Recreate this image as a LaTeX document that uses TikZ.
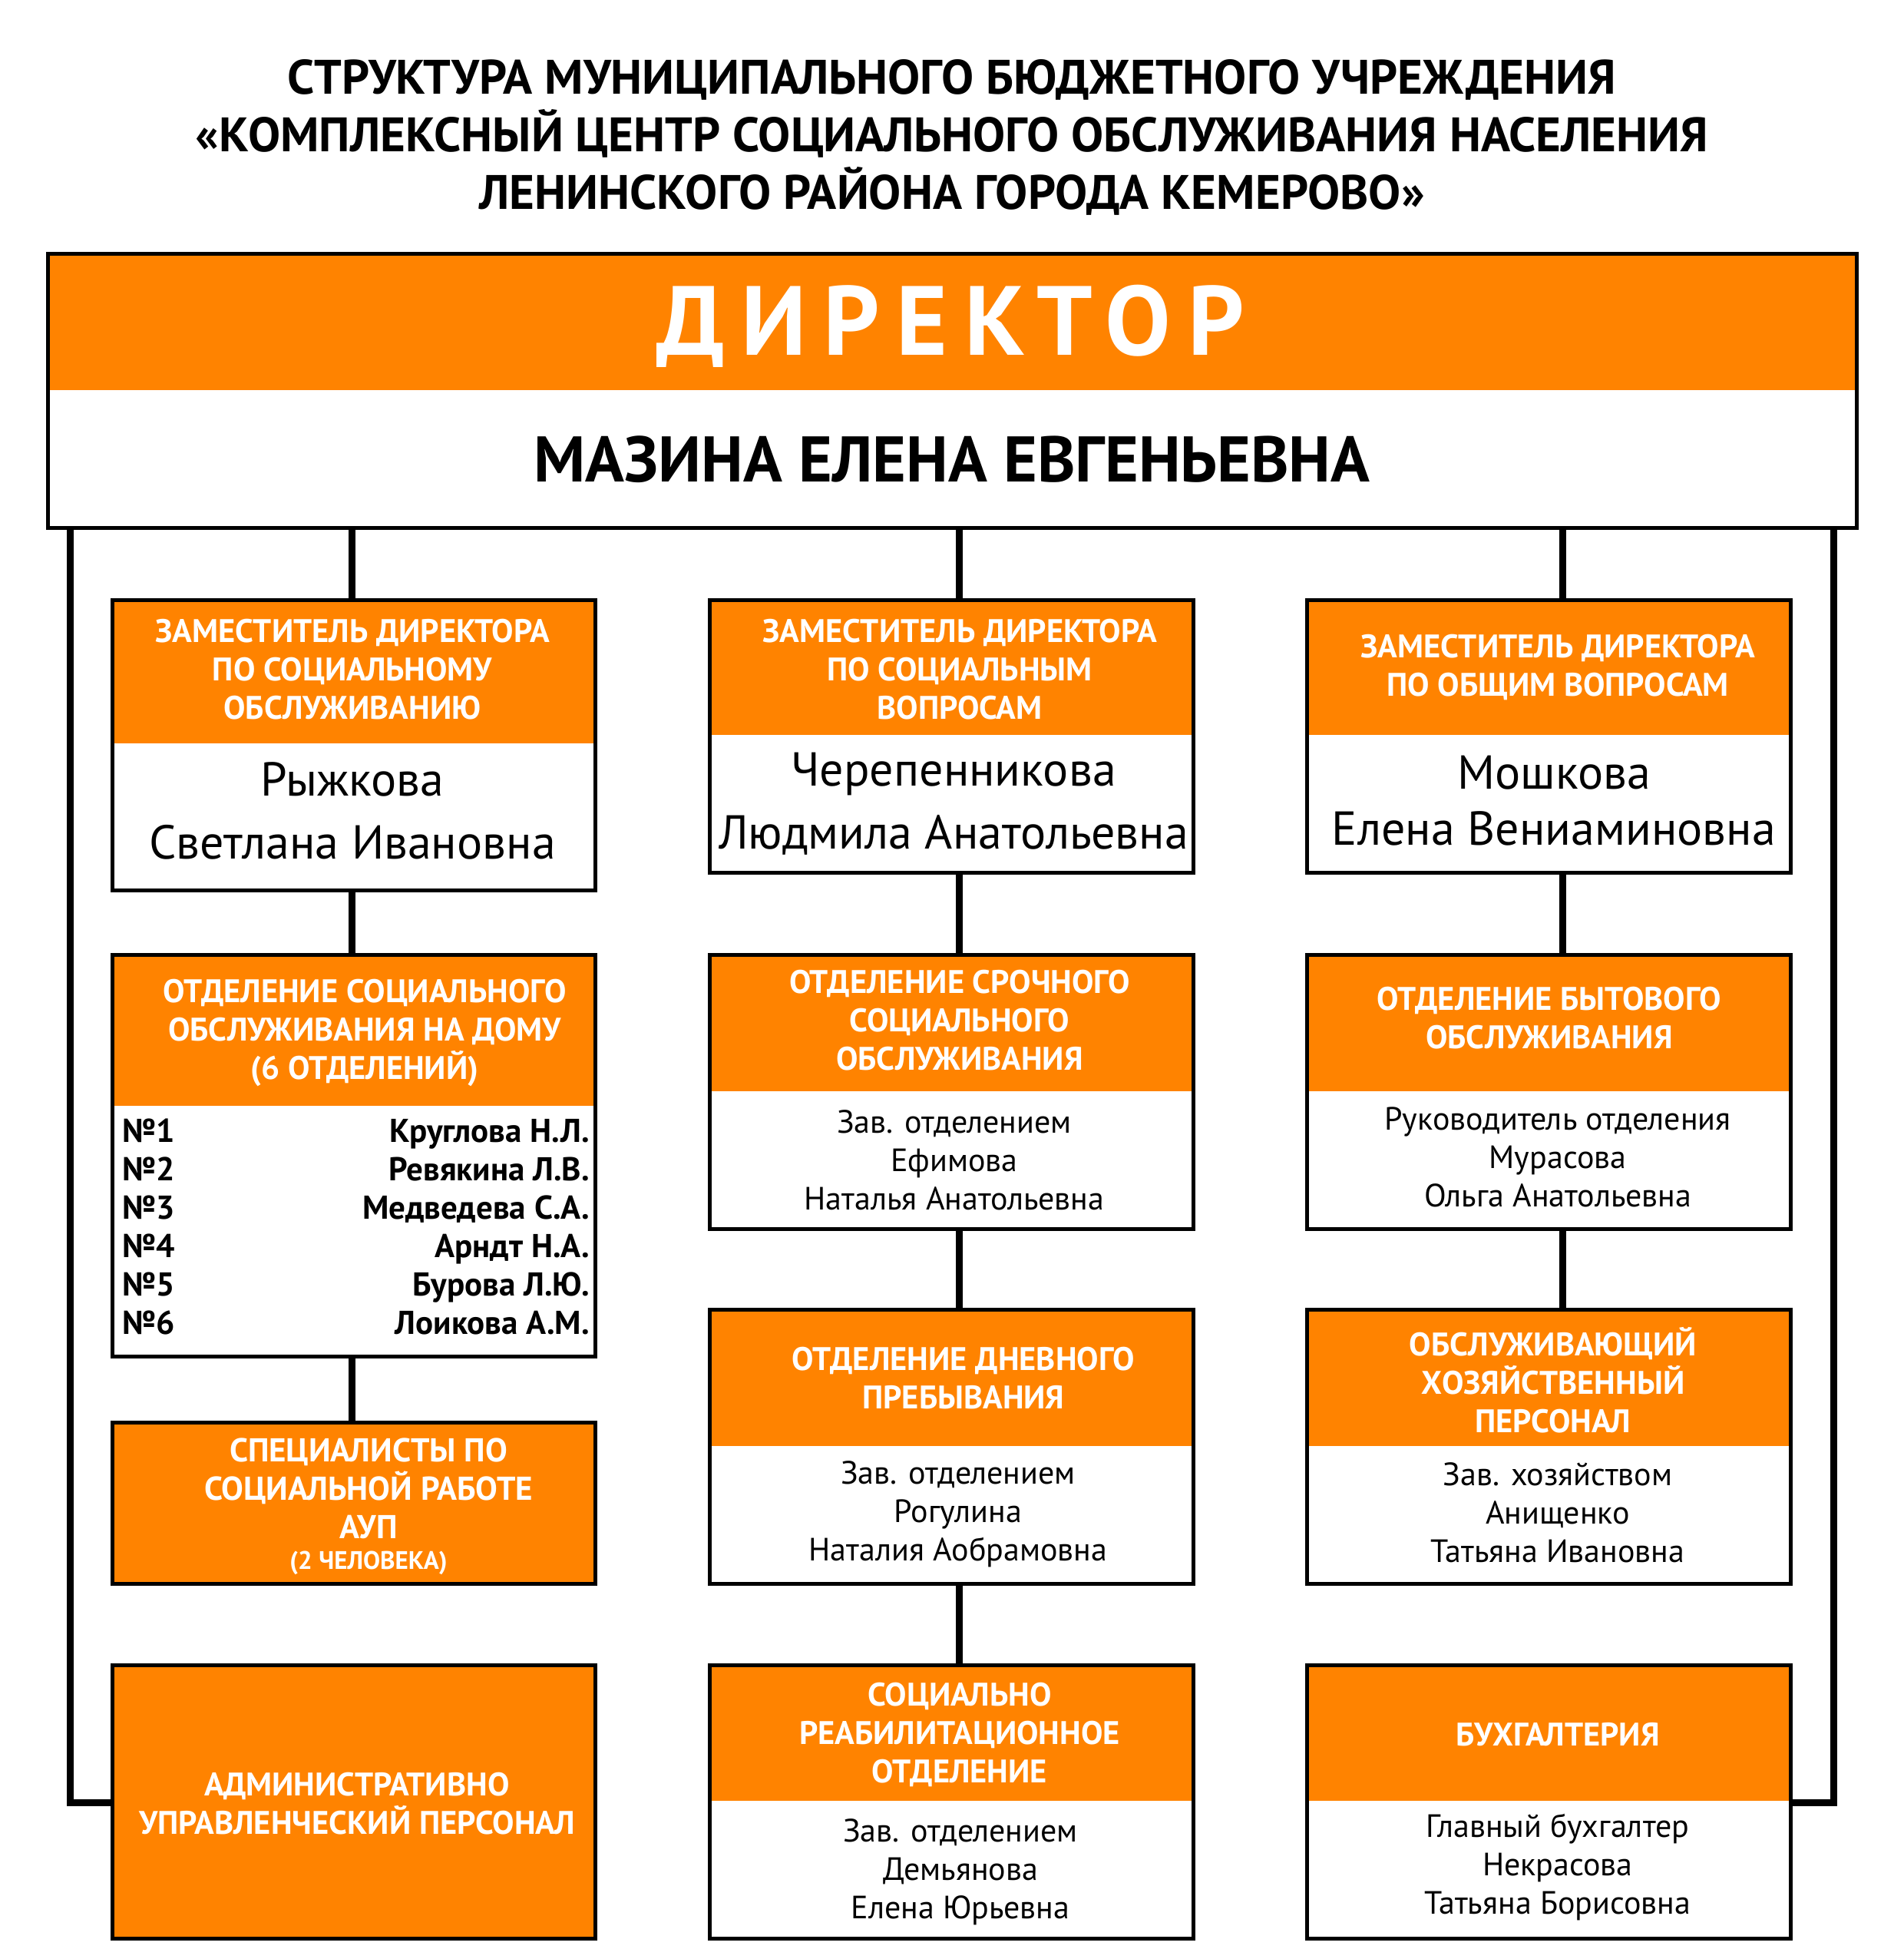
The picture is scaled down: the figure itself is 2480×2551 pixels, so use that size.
\documentclass[tikz,border=0pt]{standalone}
\usepackage{fontspec}
\setmainfont{PT Sans}
\usetikzlibrary{fit}
\definecolor{orng}{RGB}{255,131,0}
\tikzset{
  frame/.style={draw=black, line width=5pt, inner sep=0pt, outer sep=0pt},
  conn/.style={draw=black, line width=9pt, line join=miter},
  hdr/.style={text=white, font=\bfseries\fontsize{42.5}{50}\selectfont, align=center, inner sep=0pt},
  body/.style={text=black, font=\fontsize{42}{50}\selectfont, align=center, inner sep=0pt},
  nm/.style={text=black, font=\fontsize{62}{82}\selectfont, align=center, inner sep=0pt},
  lst/.style={text=black, font=\bfseries\fontsize{43}{50}\selectfont, inner sep=0pt},
  ttl/.style={text=black, font=\bfseries\fontsize{63}{75}\selectfont, align=center, inner sep=0pt},
}
\newcommand{\obox}[6]{%
  \fill[orng] (#2,#3) rectangle (#4,#6);
  \node[frame, fit={(#2,#3) (#4,#5)}] (#1) {};
}
\begin{document}
\begin{tikzpicture}[x=1pt,y=-1pt]
\useasboundingbox[fill=white] (0,0) rectangle (2480,2551);

% title
\node[ttl] (title) at (1240,179) {СТРУКТУРА МУНИЦИПАЛЬНОГО БЮДЖЕТНОГО УЧРЕЖДЕНИЯ\\«КОМПЛЕКСНЫЙ ЦЕНТР СОЦИАЛЬНОГО ОБСЛУЖИВАНИЯ НАСЕЛЕНИЯ\\ЛЕНИНСКОГО РАЙОНА ГОРОДА КЕМЕРОВО»};

% director
\obox{dir}{62}{330}{2418}{687}{508}
\node[text=white, inner sep=0pt, font=\bfseries\fontsize{128}{130}\selectfont\addfontfeature{LetterSpace=17}] (dirt) at (1238,425) {ДИРЕКТОР};
\node[inner sep=0pt, font=\bfseries\fontsize{84}{90}\selectfont] (dirn) at (1240,598) {МАЗИНА ЕЛЕНА ЕВГЕНЬЕВНА};

% boxes
\obox{dep1}{146}{781}{775}{1159}{968}
\obox{dep2}{924}{781}{1554}{1136}{957}
\obox{dep3}{1702}{781}{2332}{1136}{957}
\obox{otd1}{146}{1243}{775}{1766}{1440}
\obox{otd2}{924}{1243}{1554}{1600}{1421}
\obox{otd3}{1702}{1243}{2332}{1600}{1421}
\obox{spec}{146}{1852}{775}{2062}{2062}
\obox{otd4}{924}{1705}{1554}{2062}{1883}
\obox{hoz}{1702}{1705}{2332}{2062}{1883}
\obox{aup}{146}{2168}{775}{2524}{2524}
\obox{reab}{924}{2168}{1554}{2524}{2345}
\obox{buh}{1702}{2168}{2332}{2524}{2345}

% texts: deputies
\node[hdr] (t1) at (459,872) {ЗАМЕСТИТЕЛЬ ДИРЕКТОРА\\ПО СОЦИАЛЬНОМУ\\ОБСЛУЖИВАНИЮ};
\node[nm] (n1) at (459,1056) {Рыжкова\\Светлана Ивановна};
\node[hdr] (t2) at (1250,872) {ЗАМЕСТИТЕЛЬ ДИРЕКТОРА\\ПО СОЦИАЛЬНЫМ\\ВОПРОСАМ};
\node[nm] (n2) at (1242,1047) {Черепенникова\\Людмила Анатольевна};
\node[hdr] (t3) at (2029,869) {ЗАМЕСТИТЕЛЬ ДИРЕКТОРА\\ПО ОБЩИМ ВОПРОСАМ};
\node[nm, font=\fontsize{62}{73}\selectfont] (n3) at (2024,1043) {Мошкова\\Елена Вениаминовна};

% row 2
\node[hdr] (t4) at (475,1345) {ОТДЕЛЕНИЕ СОЦИАЛЬНОГО\\ОБСЛУЖИВАНИЯ НА ДОМУ\\(6 ОТДЕЛЕНИЙ)};
\foreach \i/\nm [count=\k from 0] in {1/Круглова Н.Л., 2/Ревякина Л.В., 3/Медведева С.А., 4/Арндт Н.А., 5/Бурова Л.Ю., 6/Лоикова А.М.}{
  \node[lst, anchor=base west] (no\i) at (159,1487+50*\k) {№\i};
  \node[lst, anchor=base east] (nn\i) at (768,1487+50*\k) {\nm};
}
\node[hdr] (t5) at (1250,1329) {ОТДЕЛЕНИЕ СРОЧНОГО\\СОЦИАЛЬНОГО\\ОБСЛУЖИВАНИЯ};
\node[body] (b5) at (1243,1511) {Зав. отделением\\Ефимова\\Наталья Анатольевна};
\node[hdr] (t6) at (2018,1326) {ОТДЕЛЕНИЕ БЫТОВОГО\\ОБСЛУЖИВАНИЯ};
\node[body] (b6) at (2029,1507) {Руководитель отделения\\Мурасова\\Ольга Анатольевна};

% row 3
\node[hdr, font=\bfseries\fontsize{43}{50}\selectfont] (t7) at (480,1962) {СПЕЦИАЛИСТЫ ПО\\СОЦИАЛЬНОЙ РАБОТЕ\\АУП\\[-10pt]{\fontsize{33}{36}\selectfont (2 ЧЕЛОВЕКА)}};
\node[hdr] (t8) at (1255,1795) {ОТДЕЛЕНИЕ ДНЕВНОГО\\ПРЕБЫВАНИЯ};
\node[body] (b8) at (1248,1972) {Зав. отделением\\Рогулина\\Наталия Аобрамовна};
\node[hdr] (t9) at (2023,1797) {ОБСЛУЖИВАЮЩИЙ\\ХОЗЯЙСТВЕННЫЙ\\ПЕРСОНАЛ};
\node[body] (b9) at (2029,1970) {Зав. хозяйством\\Анищенко\\Татьяна Ивановна};

% row 4
\node[hdr] (t10) at (465,2349) {АДМИНИСТРАТИВНО\\УПРАВЛЕНЧЕСКИЙ ПЕРСОНАЛ};
\node[hdr] (t11) at (1250,2259) {СОЦИАЛЬНО\\РЕАБИЛИТАЦИОННОЕ\\ОТДЕЛЕНИЕ};
\node[body] (b11) at (1251,2438) {Зав. отделением\\Демьянова\\Елена Юрьевна};
\node[hdr] (t12) at (2029,2259) {БУХГАЛТЕРИЯ};
\node[body] (b12) at (2029,2431) {Главный бухгалтер\\Некрасова\\Татьяна Борисовна};

% connectors
\coordinate (cL) at (458,0);
\coordinate (cC) at (1249,0);
\coordinate (cR) at (2035,0);
\draw[conn] (dir.south -| cL) -- (dep1.north -| cL);
\draw[conn] (dep1.south -| cL) -- (otd1.north -| cL);
\draw[conn] (otd1.south -| cL) -- (spec.north -| cL);
\draw[conn] (dir.south -| cC) -- (dep2.north -| cC);
\draw[conn] (dep2.south -| cC) -- (otd2.north -| cC);
\draw[conn] (otd2.south -| cC) -- (otd4.north -| cC);
\draw[conn] (otd4.south -| cC) -- (reab.north -| cC);
\draw[conn] (dir.south -| cR) -- (dep3.north -| cR);
\draw[conn] (dep3.south -| cR) -- (otd3.north -| cR);
\draw[conn] (otd3.south -| cR) -- (hoz.north -| cR);

\coordinate (lb) at (91,2347);
\coordinate (rb) at (2388,2347);
\draw[conn] (dir.south -| lb) -- (lb) -- (lb -| aup.west);
\draw[conn] (dir.south -| rb) -- (rb) -- (rb -| buh.east);
\end{tikzpicture}
\end{document}
